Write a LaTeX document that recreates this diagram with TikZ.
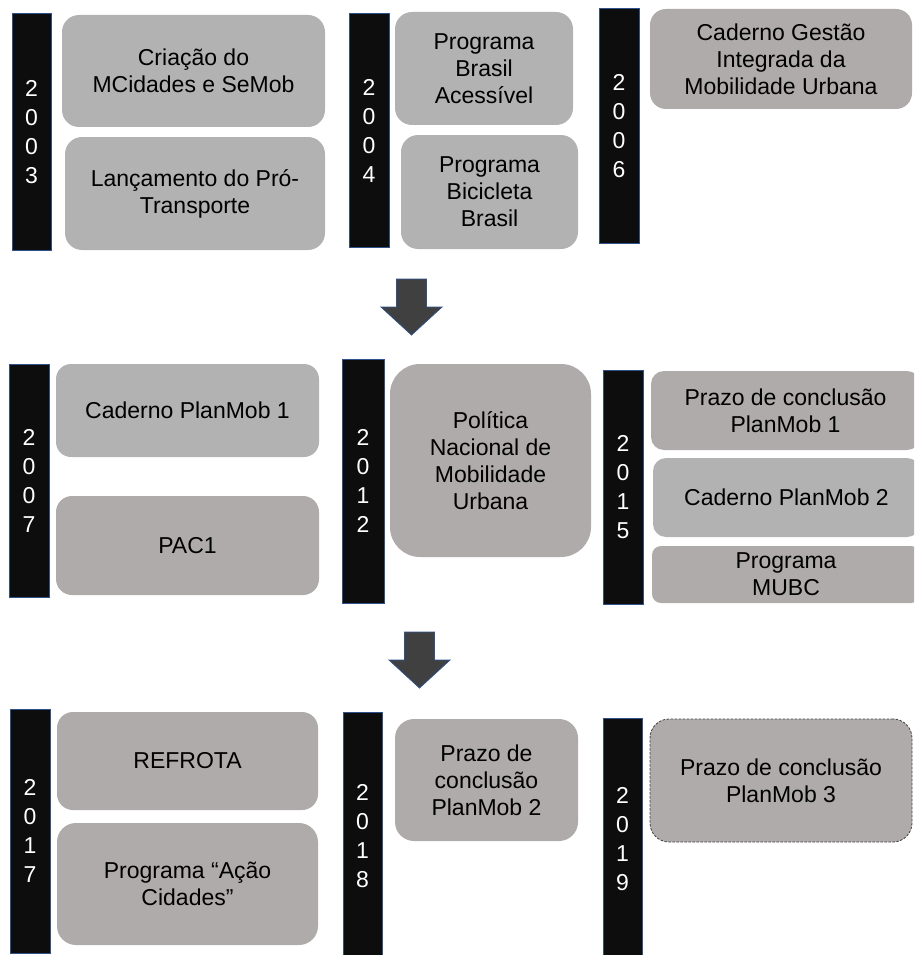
\documentclass[tikz,border=0pt]{standalone}
\usepackage{fontspec}
\setmainfont{Liberation Sans}
\definecolor{barfill}{HTML}{0D0D0D}
\definecolor{barline}{HTML}{2F528F}
\definecolor{boxgray}{HTML}{B2B2B2}
\definecolor{boxwarm}{HTML}{AFABAB}
\definecolor{arrowfill}{HTML}{404040}
\tikzset{
  boxsize/.style 2 args={minimum width=#1pt,minimum height=#2pt},
  yearbar/.style={draw=barline,line width=1pt,fill=barfill,text=white,
    align=center,inner sep=0pt,font=\fontsize{23}{29}\selectfont},
  eventbox/.style={fill=boxgray,align=center,inner sep=0pt,
    font=\fontsize{23}{27}\selectfont,rounded corners=#1},
  eventbox/.default=17pt,
  eventwarm/.style={eventbox=#1,fill=boxwarm},
  eventwarm/.default=17pt,
  bigarrow/.style={draw=barline,line width=0.8pt,fill=arrowfill},
}

\begin{document}
\begin{tikzpicture}[x=1pt,y=-1pt]
        \useasboundingbox (0,0) rectangle (914,955);
        \clip (0,0) rectangle (914,955);

        % first row
        \path
        (31.5,132) node[yearbar,boxsize={39}{236}] (y2003) {2\\0\\0\\3}
        (193.5,71) node[eventbox,boxsize={263}{112}] (mcidades) {Criação do\\MCidades e SeMob}
        (195,193.5) node[eventbox,boxsize={260}{113}] (protransp) {Lançamento do Pró-\\Transporte}
        (369,130.5) node[yearbar,boxsize={40}{233}] (y2004) {2\\0\\0\\4}
        (484,68.5) node[eventbox,boxsize={178}{113}] (acessivel) {Programa\\Brasil\\Acessível}
        (489.5,192) node[eventbox,boxsize={177}{114}] (bicicleta) {Programa\\Bicicleta\\Brasil}
        (619,126) node[yearbar,boxsize={40}{234}] (y2006) {2\\0\\0\\6}
        (781,59) node[eventwarm=16pt,boxsize={262}{100}] (gestao) {Caderno Gestão\\Integrada da\\Mobilidade Urbana}
        ;

        % second row
        \path
        (29,480.5) node[yearbar,boxsize={40}{233}] (y2007) {2\\0\\0\\7}
        (187.5,410.5) node[eventbox=15pt,boxsize={263}{93}] (planmobA) {Caderno PlanMob 1}
        (187.5,545.5) node[eventwarm=16pt,boxsize={263}{99}] (pac) {PAC1}
        (363,481) node[yearbar,boxsize={42}{244}] (y2012) {2\\0\\1\\2}
        (490.5,460.5) node[eventwarm=30pt,boxsize={201}{193}] (politica) {Política\\Nacional de\\Mobilidade\\Urbana}
        (623,487) node[yearbar,boxsize={40}{234}] (y2015) {2\\0\\1\\5}
        (785.5,410.5) node[eventwarm=13pt,boxsize={269}{79}] (prazoA) {Prazo de conclusão\\PlanMob 1}
        (786.5,497.5) node[eventbox=13pt,boxsize={267}{79}] (planmobB) {Caderno PlanMob 2}
        (786,574.5) node[eventwarm=9pt,boxsize={268}{57}] (mubc) {Programa\\MUBC}
        ;

        % third row
        \path
        (30,831) node[yearbar,boxsize={40}{244}] (y2017) {2\\0\\1\\7}
        (187.5,761) node[eventwarm=16pt,boxsize={261}{98}] (refrota) {REFROTA}
        (187.5,884) node[eventwarm=19pt,boxsize={261}{122}] (acao) {Programa “Ação\\Cidades”}
        (362.5,836) node[yearbar,boxsize={39}{248}] (y2018) {2\\0\\1\\8}
        (486.5,780) node[eventwarm=19pt,boxsize={183}{122}] (prazoB) {Prazo de\\conclusão\\PlanMob 2}
        (622.5,839) node[yearbar,boxsize={39}{242}] (y2019) {2\\0\\1\\9}
        (781,780.5) node[eventwarm=19pt,boxsize={262}{123},draw=arrowfill,line width=0.8pt,
          dash pattern=on 2.5pt off 1.5pt] (prazoC) {Prazo de conclusão\\PlanMob 3}
        ;

        % arrows between rows
        \foreach \ax/\ay in {411.5/279,419.5/632}
          \draw[bigarrow] (\ax-15,\ay) -- (\ax+15,\ay) -- (\ax+15,\ay+28)
          -- (\ax+30.5,\ay+28) -- (\ax,\ay+56) -- (\ax-30.5,\ay+28)
          -- (\ax-15,\ay+28) -- cycle;
\end{tikzpicture}
\end{document}
